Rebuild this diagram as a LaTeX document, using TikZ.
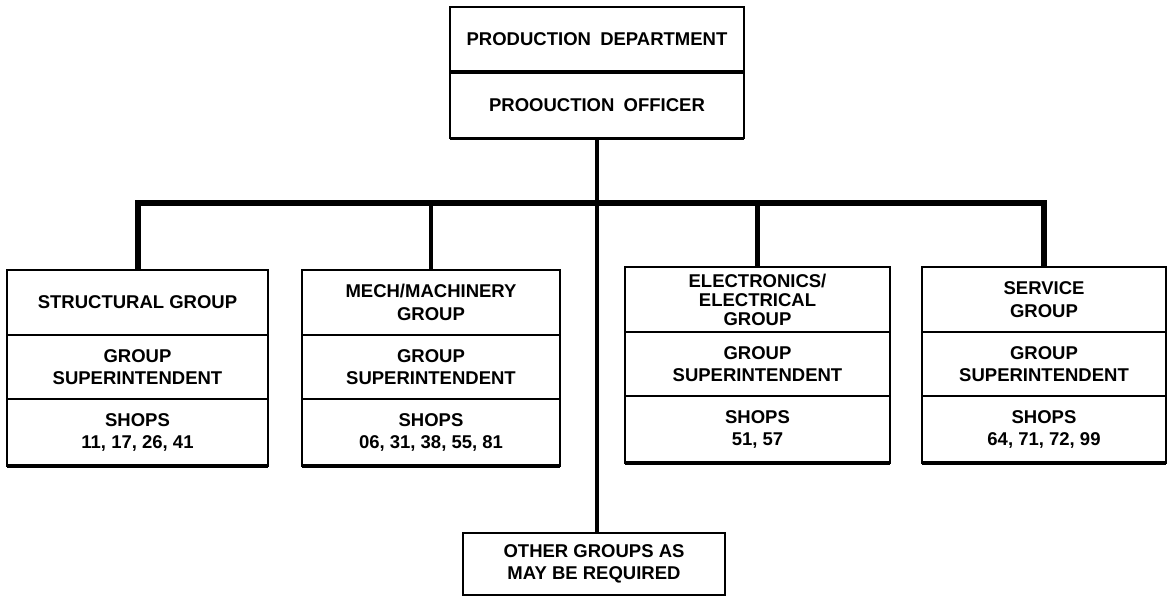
\documentclass[tikz,border=0pt]{standalone}
\usepackage{fontspec}
\setmainfont{Liberation Sans}
\usetikzlibrary{positioning,calc}

\begin{document}
\begin{tikzpicture}[x=1pt, y=-1pt,
    topbox/.style={draw, line width=1.5pt, minimum width=294pt, minimum height=#1,
      inner sep=0pt, outer sep=0pt, anchor=north, font=\fontsize{18.5}{22}\selectfont\bfseries},
    cell/.style={draw, line width=2pt, minimum width=#1, inner sep=0pt, outer sep=0pt,
      align=center, anchor=north, font=\fontsize{18.5}{22.5}\selectfont\bfseries},
    link/.style={line width=4.5pt},
    bus/.style={line width=6pt, line join=miter}]
  \useasboundingbox (0,0) rectangle (1174,597);

  % head of department
  \node[topbox=65pt] (dept) at (597,7) {PRODUCTION\enspace DEPARTMENT};
  \node[topbox=66pt, below=0pt of dept] (off) {PROOUCTION\enspace OFFICER};
  \draw[line width=4.5pt] (dept.south west) -- (dept.south east);
  \draw[line width=3pt] (off.south west) -- (off.south east);

  % the four groups
  \foreach \n/\cx/\w/\ty/\title/\shops in {
      g1/137.5/261pt/270/{STRUCTURAL GROUP}/{SHOPS\\11, 17, 26, 41},
      g2/431/258pt/270/{MECH/MACHINERY\\GROUP}/{SHOPS\\06, 31, 38, 55, 81},
      g3/757.5/265pt/267/{ELECTRONICS/\\[-3.5pt]ELECTRICAL\\[-3.5pt]GROUP}/{SHOPS\\51, 57},
      g4/1044/244pt/267/{SERVICE\\GROUP}/{SHOPS\\64, 71, 72, 99}} {
    \node[cell=\w, minimum height=65pt] (\n-t) at (\cx,\ty) {\title};
    \node[cell=\w, minimum height=64pt, below=0pt of \n-t] (\n-m) {GROUP\\SUPERINTENDENT};
    \node[cell=\w, minimum height=67pt, below=0pt of \n-m] (\n-b) {\shops};
    \draw[line width=3.5pt] (\n-b.south west) -- (\n-b.south east);
  }

  \node[cell=262pt, minimum height=62pt] (other) at (594,533) {OTHER GROUPS AS\\MAY BE REQUIRED};

  % connectors
  \coordinate (bar) at (0,203);
  \draw[bus] (g1-t.north) -- (g1-t.north |- bar) -- (g4-t.north |- bar) -- (g4-t.north);
  \draw[link] (g2-t.north) -- (g2-t.north |- bar);
  \draw[link] (g3-t.north) -- (g3-t.north |- bar);
  \draw[link] (off.south) -- (off.south |- other.north);
\end{tikzpicture}
\end{document}
